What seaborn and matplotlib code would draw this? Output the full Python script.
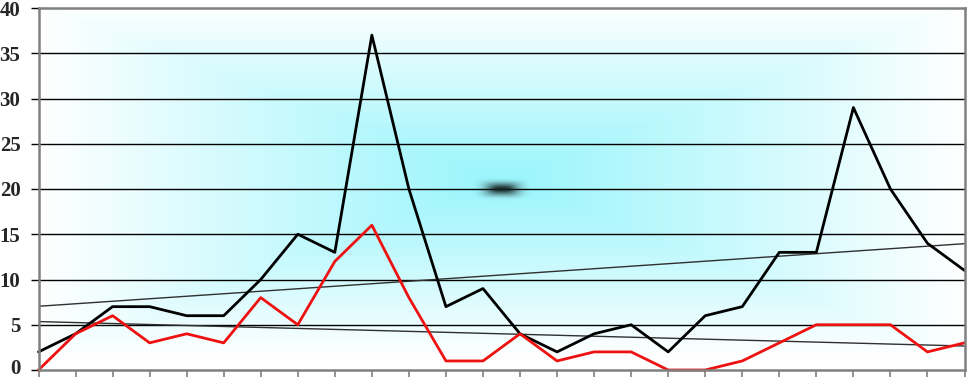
import numpy as np
import pandas as pd
import matplotlib
matplotlib.use("Agg")
import matplotlib.pyplot as plt
from matplotlib.transforms import ScaledTranslation
import seaborn as sns

# ---- data ----
periods = list(range(26))
black_series = [2, 4, 7, 7, 6, 6, 10, 15, 13, 37, 20, 7, 9, 4, 2, 4, 5, 2, 6, 7, 13, 13, 29, 20, 14, 11]
red_series = [0, 4, 6, 3, 4, 3, 8, 5, 12, 16, 8, 1, 1, 4, 1, 2, 2, 0, 0, 1, 3, 5, 5, 5, 2, 3]
y_ticks = [0, 5, 10, 15, 20, 25, 30, 35, 40]
center_mark = [12.5, 20]

df = pd.DataFrame({"period": periods, "black": black_series, "red": red_series})

sns.set_theme(style="white")
plt.rcParams["font.family"] = ["Liberation Serif", "DejaVu Serif"]

fig = plt.figure(figsize=(9.67, 3.78), dpi=100)
ax = fig.add_axes([38.5 / 967, 8 / 378, (964.5 - 38.5) / 967, (370 - 8) / 378])

ax.set_xlim(0, 25)
ax.set_ylim(0, 40)

# rectangular "from centre" gradient background
nx, ny = 500, 200
xs = np.linspace(-1, 1, nx)
ys = np.linspace(-1, 1, ny)
X, Y = np.meshgrid(xs, ys)
T = np.maximum(np.abs(X - 0.0), np.abs(Y - 0.05) / 0.98)
t = np.clip(T, 0, 1) ** 1.05
c0 = np.array([0x9A, 0xF5, 0xFC]) / 255.0
c1 = np.array([1.0, 1.0, 1.0])
img = c0[None, None, :] * (1 - t[..., None]) + c1[None, None, :] * t[..., None]
ax.imshow(img, extent=(0, 25, 0, 40), aspect="auto", origin="lower", zorder=0,
          interpolation="bilinear")

# gridlines
for yv in y_ticks[1:-1]:
    ax.axhline(yv, color="black", lw=1.0, zorder=1)

# blurred mark at centre (soft image)
px_x = 926 / 25.0   # pixels per x unit
px_y = 362 / 40.0   # pixels per y unit
hw, hh = 30 / px_x, 12 / px_y
mx = np.linspace(-hw, hw, 121)
my = np.linspace(-hh, hh, 49)
MX, MY = np.meshgrid(mx, my)
dxp, dyp = MX * px_x, MY * px_y
alpha = (0.35 * np.exp(-(np.abs(dxp) / 21.0) ** 4) * np.exp(-(np.abs(dyp) / 8.0) ** 4)
         + 0.6 * np.exp(-(np.abs(dxp) / 13.0) ** 3) * np.exp(-(np.abs(dyp) / 4.5) ** 2))
alpha = np.clip(alpha, 0, 0.95)
mark = np.zeros(MX.shape + (4,))
mark[..., 0] = 0.08
mark[..., 1] = 0.13
mark[..., 2] = 0.13
mark[..., 3] = alpha
ax.imshow(mark, extent=(center_mark[0] - hw, center_mark[0] + hw,
                        center_mark[1] - hh, center_mark[1] + hh),
          aspect="auto", origin="lower", zorder=2, interpolation="bilinear")

# trend lines
sns.regplot(data=df, x="period", y="black", scatter=False, ci=None, truncate=False,
            line_kws=dict(color="#303030", lw=1.0, zorder=3), ax=ax)
sns.regplot(data=df, x="period", y="red", scatter=False, ci=None, truncate=False,
            line_kws=dict(color="#303030", lw=1.0, zorder=3), ax=ax)

# series
sns.lineplot(data=df, x="period", y="black", color="black", lw=2.0, ax=ax, zorder=4,
             clip_on=False)
sns.lineplot(data=df, x="period", y="red", color="#ee1111", lw=2.0, ax=ax, zorder=5,
             clip_on=False)

ax.set_xlim(0, 25)
ax.set_ylim(0, 40)
ax.set_xlabel("")
ax.set_ylabel("")
ax.set_xticks(periods)
ax.set_xticklabels([])
ax.set_yticks(y_ticks)
ax.set_yticklabels([str(v) for v in y_ticks], fontsize=15, fontweight="bold")
ax.tick_params(axis="x", direction="out", length=5, width=1.2, color="#808080", bottom=True)
ax.tick_params(axis="y", direction="out", length=6, width=1.0, color="black", left=True, pad=7)
for tick in ax.yaxis.get_major_ticks():
    tick.label1.set_va("center_baseline")
zero_lbl = ax.yaxis.get_major_ticks()[0].label1
zero_lbl.set_transform(zero_lbl.get_transform() + ScaledTranslation(0, 3 / 100, fig.dpi_scale_trans))

for side in ["left", "top", "right", "bottom"]:
    ax.spines[side].set_visible(True)
    ax.spines[side].set_color("#808080")
    ax.spines[side].set_linewidth(1.8)
    ax.spines[side].set_zorder(6)

fig.savefig("out.png", dpi=100)
